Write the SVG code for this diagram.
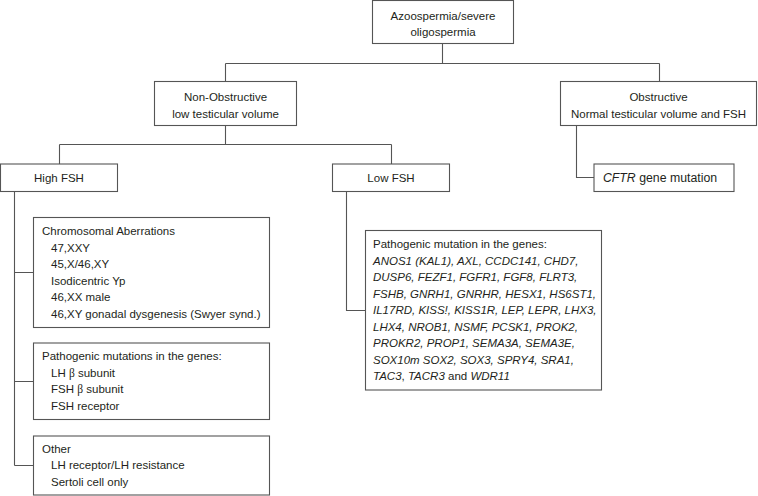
<svg xmlns="http://www.w3.org/2000/svg" width="758" height="496" viewBox="0 0 758 496">
<style>
rect.box{fill:#fff;stroke:#555;stroke-width:1.1}
.c{fill:none;stroke:#555;stroke-width:1.1}
text{font-family:"Liberation Sans",Arial,sans-serif;font-size:11.5px;fill:#231f20}
.m{text-anchor:middle}
.i{font-style:italic}
.g{font-family:"Liberation Serif","Times New Roman",serif}
</style>
<rect width="758" height="496" fill="#fff"/>
<g id="connectors">
<path class="c" d="M442.5 43.5V63.5M225.5 63.5H659.5M225.5 63.5V81.5M659.5 63.5V81.5"/>
<path class="c" d="M225.5 125.5V144.5M59.5 144.5H391.5M59.5 144.5V164M391.5 144.5V164"/>
<path class="c" d="M576.5 125.5V177.5H594"/>
<path class="c" d="M14.5 191.5V465.5M14.5 272.5H33.5M14.5 381.5H33.5M14.5 465.5H33.5"/>
<path class="c" d="M346.5 191.5V310.5H365.5"/>
</g>
<g id="n_top">
<rect class="box" x="372.5" y="0.5" width="141" height="43"/>
<text class="m" x="443" y="19.5">Azoospermia/severe</text>
<text class="m" x="443" y="36">oligospermia</text>
</g>
<g id="n_nonobs">
<rect class="box" x="154.5" y="81.5" width="142" height="44"/>
<text class="m" x="225.5" y="100.5">Non-Obstructive</text>
<text class="m" x="225.5" y="117.5">low testicular volume</text>
</g>
<g id="n_obs">
<rect class="box" x="560.5" y="81.5" width="196" height="44"/>
<text class="m" x="658.5" y="100.5">Obstructive</text>
<text class="m" x="658.5" y="117.5">Normal testicular volume and FSH</text>
</g>
<g id="n_highfsh">
<rect class="box" x="0.5" y="164" width="117" height="27.5"/>
<text class="m" x="59" y="182">High FSH</text>
</g>
<g id="n_lowfsh">
<rect class="box" x="332.5" y="164" width="117" height="27.5"/>
<text class="m" x="391" y="182">Low FSH</text>
</g>
<g id="n_cftr">
<rect class="box" x="594" y="164" width="140" height="27.5"/>
<text class="m" x="660" y="182" style="font-size:12.3px"><tspan class="i">CFTR</tspan> gene mutation</text>
</g>
<g id="n_chrom">
<rect class="box" x="33.5" y="217.5" width="236" height="110"/>
<text x="42" y="235">Chromosomal Aberrations</text>
<text x="51" y="251.5">47,XXY</text>
<text x="51" y="268">45,X/46,XY</text>
<text x="51" y="284.5">Isodicentric Yp</text>
<text x="51" y="301">46,XX male</text>
<text x="51" y="317.5">46,XY gonadal dysgenesis (Swyer synd.)</text>
</g>
<g id="n_pathleft">
<rect class="box" x="33.5" y="343" width="236" height="76.5"/>
<text x="42" y="360">Pathogenic mutations in the genes:</text>
<text x="51" y="376.5">LH <tspan class="g">β</tspan> subunit</text>
<text x="51" y="393">FSH <tspan class="g">β</tspan> subunit</text>
<text x="51" y="409.5">FSH receptor</text>
</g>
<g id="n_other">
<rect class="box" x="33.5" y="436" width="236" height="59"/>
<text x="42" y="452.5">Other</text>
<text x="51" y="469">LH receptor/LH resistance</text>
<text x="51" y="485.5">Sertoli cell only</text>
</g>
<g id="n_genes">
<rect class="box" x="365.5" y="230.5" width="236" height="159.5"/>
<text x="373" y="248">Pathogenic mutation in the genes:</text>
<text x="373" y="264.5" class="i">ANOS1 (KAL1), AXL, CCDC141, CHD7,</text>
<text x="373" y="281" class="i">DUSP6, FEZF1, FGFR1, FGF8, FLRT3,</text>
<text x="373" y="297.5" class="i">FSHB, GNRH1, GNRHR, HESX1, HS6ST1,</text>
<text x="373" y="314" class="i">IL17RD, KISS!, KISS1R, LEP, LEPR, LHX3,</text>
<text x="373" y="330.5" class="i">LHX4, NROB1, NSMF, PCSK1, PROK2,</text>
<text x="373" y="347" class="i">PROKR2, PROP1, SEMA3A, SEMA3E,</text>
<text x="373" y="363.5" class="i">SOX10m SOX2, SOX3, SPRY4, SRA1,</text>
<text x="373" y="380"><tspan class="i">TAC3</tspan>, <tspan class="i">TACR3</tspan> and <tspan class="i">WDR11</tspan></text>
</g>
</svg>
